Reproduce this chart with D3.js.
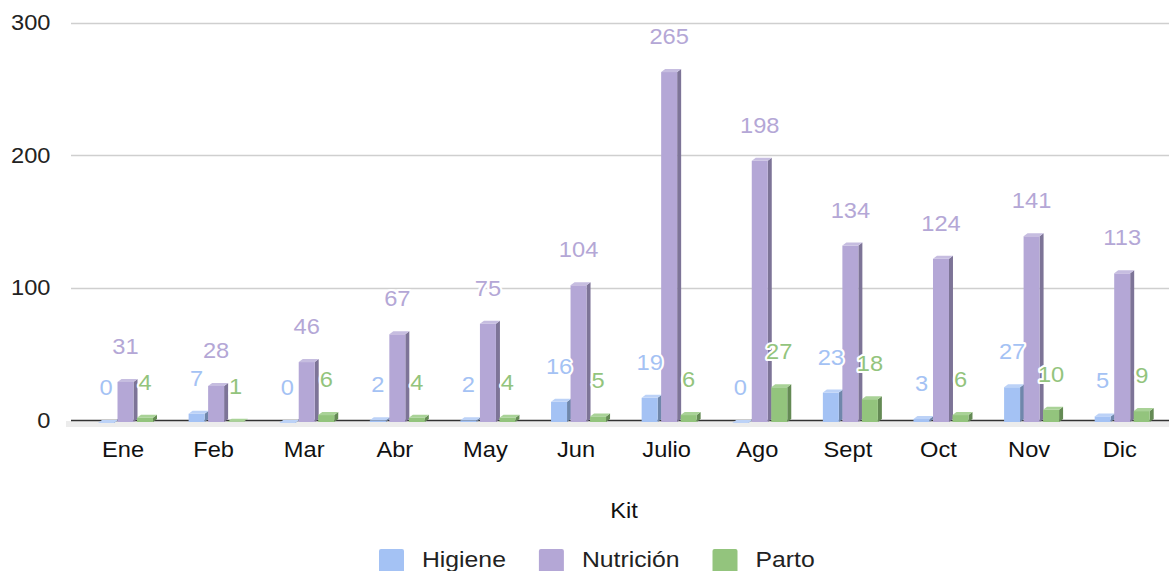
<!DOCTYPE html>
<html>
<head>
<meta charset="utf-8">
<script src="https://cdn.jsdelivr.net/npm/d3@7"></script>
<style>
  body { margin: 0; background: #fff; }
  text { font-family: "Liberation Sans", Arial, sans-serif; }
</style>
</head>
<body>
<svg width="1169" height="571"></svg>
<script>
// Chart data
const MONTHS = ["Ene", "Feb", "Mar", "Abr", "May", "Jun", "Julio", "Ago", "Sept", "Oct", "Nov", "Dic"];
const SERIES = ["Higiene", "Nutrición", "Parto"];
const HIGIENE = [0, 7, 0, 2, 2, 16, 19, 0, 23, 3, 27, 5];
const NUTRICION = [31, 28, 46, 67, 75, 104, 265, 198, 134, 124, 141, 113];
const PARTO = [4, 1, 6, 4, 4, 5, 6, 27, 18, 6, 10, 9];
const Y_TICKS = [0, 100, 200, 300];

// Colours: front, side, top
const COLOURS = {
    "Higiene": ["#a4c2f4", "#6f87ab", "#bcd2f7"],
    "Nutrición": ["#b4a7d6", "#7d7497", "#c6bde0"],
    "Parto": ["#93c47d", "#648a54", "#a9d297"]
};

// text in the original is slightly stretched horizontally
const SX = 1.1;
function place(x, y) { return `translate(${x},${y}) scale(${SX},1)`; }

const svg = d3.select("svg");
const values = [HIGIENE, NUTRICION, PARTO];

// Scales
const x = d3.scaleBand().domain(MONTHS).range([79.7, 1167]).padding(0);
const xs = d3.scaleBand().domain(SERIES).range([-27, 28]).paddingInner(0.18);
const y = d3.scaleLinear().domain([0, 300]).range([420, 22.7]);
const DX = 4, DY = 3;

// Floor under the baseline
svg.append("rect")
    .attr("x", 66).attr("y", y(0) + 1)
    .attr("width", 1169 - 66).attr("height", 6)
    .attr("fill", "#ececec");

// Grid lines
svg.append("g")
    .selectAll("line")
    .data(Y_TICKS)
    .enter()
    .append("line")
    .attr("x1", 71).attr("x2", 1169)
    .attr("y1", (d) => Math.round(y(d)) + 0.5)
    .attr("y2", (d) => Math.round(y(d)) + 0.5)
    .attr("stroke", (d) => d === 0 ? "#333" : "#cfcfcf")
    .attr("stroke-width", 1.5);

// Y tick labels
svg.append("g")
    .selectAll("text")
    .data(Y_TICKS)
    .enter()
    .append("text")
    .attr("transform", (d) => place(50.5, y(d)))
    .attr("dy", "0.36em")
    .attr("text-anchor", "end")
    .attr("font-size", 21.5)
    .attr("fill", "#222")
    .text((d) => d);

// Bars flattened
const bars = [];
SERIES.forEach((s, i) => {
    MONTHS.forEach((m, j) => bars.push({ series: s, month: m, value: values[i][j] }));
});

const barG = svg.append("g")
    .selectAll("g")
    .data(bars)
    .enter()
    .append("g");

function x0(d) { return x(d.month) + x.bandwidth() / 2 + xs(d.series); }
const W = xs.bandwidth();

// side face
barG.append("path")
    .attr("fill", (d) => COLOURS[d.series][1])
    .attr("d", (d) => {
        const t = y(d.value), b = y(0) + 2, a = x0(d) + W;
        return `M${a},${t + DY}L${a + DX},${t}L${a + DX},${b - DY}L${a},${b}Z`;
    });

// front face
barG.append("rect")
    .attr("fill", (d) => COLOURS[d.series][0])
    .attr("x", (d) => x0(d))
    .attr("y", (d) => y(d.value) + DY)
    .attr("width", W)
    .attr("height", (d) => Math.max(0, y(0) + 2 - y(d.value) - DY));

// top face
barG.append("path")
    .attr("fill", (d) => COLOURS[d.series][2])
    .attr("d", (d) => {
        const t = y(d.value), a = x0(d);
        return `M${a},${t + DY}L${a + W},${t + DY}L${a + W + DX},${t}L${a + DX},${t}Z`;
    });

// Value labels
svg.append("g")
    .selectAll("text")
    .data(bars)
    .enter()
    .append("text")
    .attr("transform", (d) => place(x0(d) + W / 2, y(d.value) - 25))
    .attr("text-anchor", "middle")
    .attr("font-size", 21.5)
    .attr("fill", (d) => COLOURS[d.series][0])
    .attr("stroke", "#fff")
    .attr("stroke-width", 4)
    .attr("stroke-linejoin", "round")
    .attr("paint-order", "stroke")
    .text((d) => d.value);

// Month labels
svg.append("g")
    .selectAll("text")
    .data(MONTHS)
    .enter()
    .append("text")
    .attr("transform", (d) => place(x(d) + x.bandwidth() / 2 - 2, 457))
    .attr("text-anchor", "middle")
    .attr("font-size", 21.5)
    .attr("fill", "#111")
    .text((d) => d);

// Axis title
svg.append("text")
    .attr("transform", place(624, 518))
    .attr("text-anchor", "middle")
    .attr("font-size", 21.5)
    .attr("fill", "#111")
    .text("Kit");

// Legend, laid out left to right by text width
const legend = svg.append("g");
let lx = 379;
SERIES.forEach((s) => {
    const item = legend.append("g").attr("transform", `translate(${lx},549)`);
    item.append("rect")
        .attr("width", 25).attr("height", 24)
        .attr("rx", 2)
        .attr("fill", COLOURS[s][0]);
    const t = item.append("text")
        .attr("transform", place(43, 18))
        .attr("font-size", 22.5)
        .attr("fill", "#222")
        .text(s);
    lx += 43 + t.node().getComputedTextLength() * SX + 33;
});
</script>
</body>
</html>
